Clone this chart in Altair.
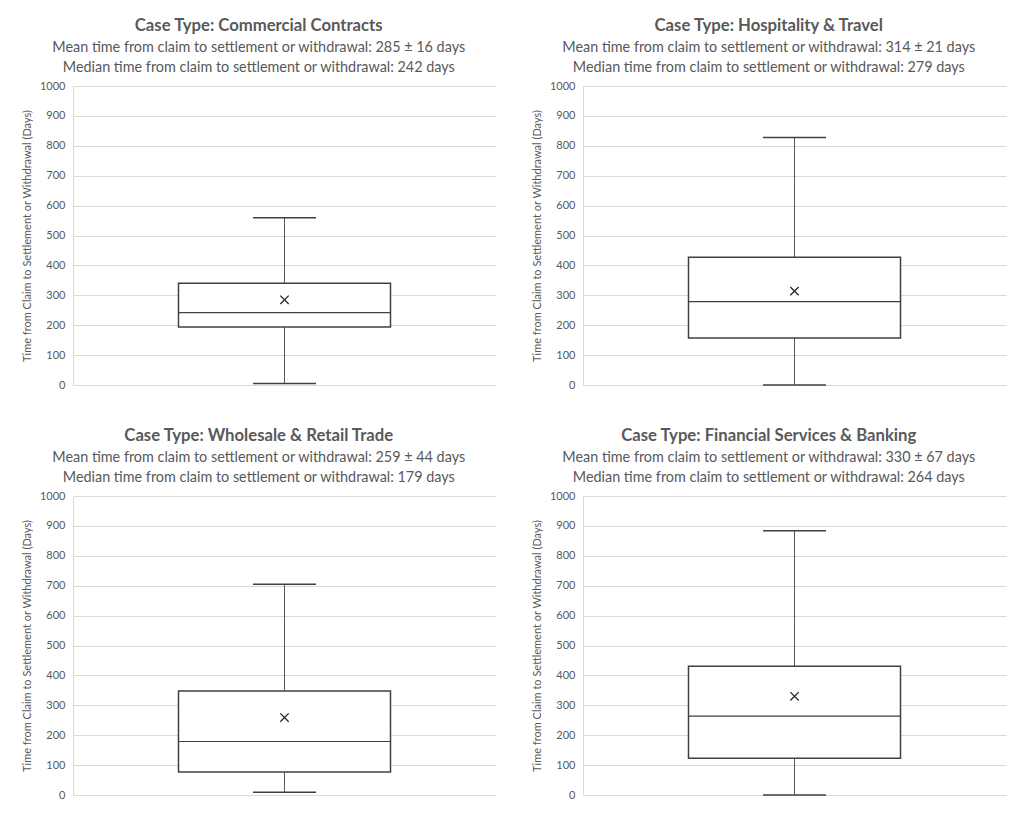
import altair as alt
import pandas as pd

cases = ["Commercial Contracts", "Hospitality & Travel",
         "Wholesale & Retail Trade", "Financial Services & Banking"]
mean_days = [285, 314, 259, 330]
mean_err = [16, 21, 44, 67]
median_days = [242, 279, 179, 264]
whisker_low = [5, 0, 9, 0]
q1_days = [194, 157, 77, 123]
q3_days = [340, 427, 348, 431]
whisker_high = [559, 828, 705, 884]
y_ticks = list(range(0, 1001, 100))

FONT = "Lato"
GRAY = "#595959"
BOX = "#404040"
YTITLE = "Time from Claim to Settlement  or Withdrawal (Days)"


def panel(i):
    df = pd.DataFrame({
        "case": [cases[i]],
        "lo": [whisker_low[i]],
        "q1": [q1_days[i]],
        "median": [median_days[i]],
        "q3": [q3_days[i]],
        "hi": [whisker_high[i]],
        "mean": [mean_days[i]],
    })
    yscale = alt.Scale(domain=[0, 1000], nice=False)
    yaxis = alt.Axis(values=y_ticks, format="d", labelOverlap=False,
                     grid=True, gridColor="#d9d9d9",
                     domain=True, domainColor="#d9d9d9", ticks=False,
                     tickSize=0, labelPadding=8, labelColor=GRAY,
                     labelFont=FONT, labelFontSize=11, title=YTITLE,
                     titleFont=FONT, titleFontSize=11, titleColor=GRAY,
                     titleFontWeight="normal", titlePadding=7)

    def Y(field):
        return alt.Y(field, scale=yscale, axis=yaxis)

    base = alt.Chart(df).encode(
        x=alt.X("case:N", axis=None,
                scale=alt.Scale(paddingInner=0, paddingOuter=0)))
    lower = base.mark_rule(color=GRAY, strokeWidth=1).encode(
        y=Y("lo:Q"), y2="q1:Q")
    upper = base.mark_rule(color=GRAY, strokeWidth=1).encode(
        y=Y("q3:Q"), y2="hi:Q")
    box = base.mark_bar(size=212, fill="white", stroke=BOX,
                        strokeWidth=1.5).encode(y=Y("q1:Q"), y2="q3:Q")
    med = base.mark_tick(size=212, thickness=1.2, color=BOX,
                         opacity=1).encode(y=Y("median:Q"))
    cap_lo = base.mark_tick(size=63, thickness=1.5, color=BOX,
                            opacity=1).encode(y=Y("lo:Q"))
    cap_hi = base.mark_tick(size=63, thickness=1.5, color=BOX,
                            opacity=1).encode(y=Y("hi:Q"))
    mean = base.mark_point(shape="M-1,-1L1,1M1,-1L-1,1", size=70,
                           filled=False, stroke="#262626", strokeWidth=1.3,
                           opacity=1).encode(y=Y("mean:Q"))
    title = alt.TitleParams(
        text=f"Case Type: {cases[i]}",
        subtitle=[
            f"Mean time from claim to settlement or withdrawal: {mean_days[i]} \u00b1 {mean_err[i]} days",
            f"Median time from claim to settlement or withdrawal: {median_days[i]} days",
        ],
        anchor="middle", frame="bounds", font=FONT, fontSize=16.7,
        fontWeight="bold", color=GRAY, subtitleFont=FONT,
        subtitleFontSize=14.4, subtitleColor=GRAY, subtitleLineHeight=19.5,
        subtitlePadding=6, offset=6)
    return alt.layer(lower, upper, box, med, cap_lo, cap_hi, mean).properties(
        width=423, height=299, title=title)


top = alt.hconcat(panel(0), panel(1), spacing=35)
bottom = alt.hconcat(panel(2), panel(3), spacing=35)
chart = alt.vconcat(top, bottom, spacing=38).properties(
    padding={"left": 13, "top": 10, "right": 5, "bottom": 5}
).configure(background="white").configure_view(strokeWidth=0,
                                               strokeOpacity=0)

chart.save("out.html", embed_options={"renderer": "svg", "actions": False})
